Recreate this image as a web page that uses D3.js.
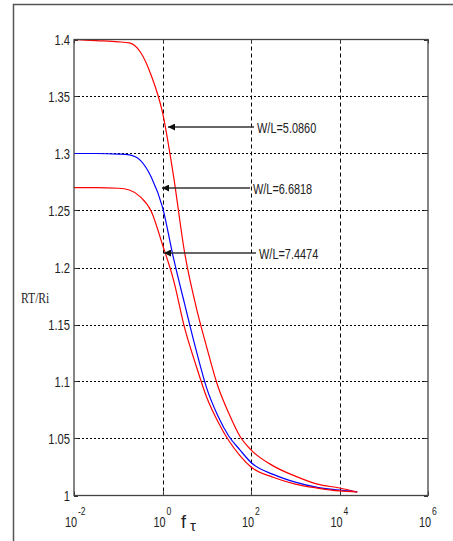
<!doctype html>
<html>
<head>
	<title> RT/Ri vs f tau </title>
	<script src="https://cdn.jsdelivr.net/npm/d3@7"></script>
</head>
<style>
	body { margin:0; background-color:white; }
	svg { display:block; }
	.tick-label { font-family:'Liberation Sans', Arial, sans-serif; font-size:14px; fill:#222; }
	.note { font-family:'Liberation Sans', Arial, sans-serif; font-size:14px; fill:#222; }
	.ylab { font-family:'Liberation Serif', 'Times New Roman', serif; font-size:14px; fill:#222; }
</style>
<body>
<script>

	// frequency grid, as log10(f)
	var logF = [-2, -1.5, -1, -0.75, -0.5, -0.25, 0, 0.25, 0.5, 0.75, 1, 1.25, 1.5, 1.75, 2, 2.5, 3, 3.5, 4, 4.4]

	var wl5 = [1.400, 1.399, 1.398, 1.397, 1.389, 1.368, 1.336, 1.280, 1.213, 1.167, 1.130, 1.096, 1.072, 1.052, 1.040, 1.026, 1.017, 1.010, 1.0066, 1.0031]
	var wl6 = [1.300, 1.300, 1.2995, 1.2988, 1.294, 1.279, 1.253, 1.208, 1.168, 1.129, 1.094, 1.070, 1.052, 1.040, 1.029, 1.0185, 1.0117, 1.0071, 1.0048, 1.0031]
	var wl7 = [1.270, 1.270, 1.2695, 1.268, 1.262, 1.249, 1.220, 1.189, 1.147, 1.115, 1.086, 1.065, 1.048, 1.035, 1.025, 1.016, 1.010, 1.0065, 1.0040, 1.0031]

	var series = [
		{name:"W/L=5.0860", values:wl5, color:"#ff0000"},
		{name:"W/L=6.6818", values:wl6, color:"#0000ff"},
		{name:"W/L=7.4474", values:wl7, color:"#ff0000"}
	]

	// arrow annotations: tip (f, value) and label start f
	var notes = [
		{t:"W/L=5.0860", f:1.33, v:1.3232, tf:137},
		{t:"W/L=6.6818", f:0.975, v:1.2697, tf:111},
		{t:"W/L=7.4474", f:1.08, v:1.2127, tf:152}
	]

	var xTicks = [-2, 0, 2, 4, 6]
	var yTicks = [1, 1.05, 1.1, 1.15, 1.2, 1.25, 1.3, 1.35, 1.4]

	var width = 453
	var height = 541
	var pLeft = 74, pRight = 428, pTop = 39.5, pBottom = 495.5

	var canvas = d3.select("body")
				.append("svg")
				.attr("width",width)
				.attr("height",height);

	var x = d3.scaleLog().domain([1e-2, 1e6]).range([pLeft, pRight])
	var y = d3.scaleLinear().domain([1, 1.4]).range([pBottom, pTop])

	// outer figure frame (left + top)
	canvas.append("path")
		.attr("d", "M13.5,541 L13.5,4.5 L453,4.5")
		.attr("fill","none")
		.attr("stroke","#555")
		.attr("stroke-width",1.5)

	// grid
	canvas.selectAll(".vgrid")
		.data(xTicks.slice(1, -1))
		.enter()
			.append("line")
			.attr("x1", function(d) { return Math.round(x(Math.pow(10,d)))+0.5; })
			.attr("x2", function(d) { return Math.round(x(Math.pow(10,d)))+0.5; })
			.attr("y1", pTop)
			.attr("y2", pBottom)
			.attr("stroke","#000")
			.attr("stroke-dasharray","4,3")
			.attr("class","vgrid");

	canvas.selectAll(".hgrid")
		.data(yTicks.slice(1, -1))
		.enter()
			.append("line")
			.attr("x1", pLeft)
			.attr("x2", pRight)
			.attr("y1", function(d) { return Math.round(y(d))+0.5; })
			.attr("y2", function(d) { return Math.round(y(d))+0.5; })
			.attr("stroke","#000")
			.attr("stroke-dasharray","2,2")
			.attr("class","hgrid");

	// tick marks (inside, both sides)
	canvas.selectAll(".ytick")
		.data(yTicks)
		.enter()
			.append("path")
			.attr("d", function(d) { var yy = Math.round(y(d))+0.5;
				return "M"+pLeft+","+yy+"h4M"+pRight+","+yy+"h-4"; })
			.attr("stroke","#333")
			.attr("class","ytick");

	canvas.selectAll(".xtick")
		.data(xTicks)
		.enter()
			.append("path")
			.attr("d", function(d) { var xx = Math.round(x(Math.pow(10,d)))+0.5;
				return "M"+xx+","+pBottom+"v-4M"+xx+","+pTop+"v4"; })
			.attr("stroke","#333")
			.attr("class","xtick");

	// curves
	var line = d3.line()
		.x(function(d) { return x(Math.pow(10, d[0])); })
		.y(function(d) { return y(d[1]); })
		.curve(d3.curveMonotoneX)

	canvas.selectAll(".curve")
		.data(series)
		.enter()
			.append("path")
			.attr("d", function(s) { return line(logF.map(function(f,i) { return [f, s.values[i]]; })); })
			.attr("fill","none")
			.attr("stroke", function(s) { return s.color; })
			.attr("stroke-width",1.2)
			.attr("class","curve");

	// axes box
	canvas.append("rect")
		.attr("x", pLeft).attr("y", pTop)
		.attr("width", pRight-pLeft).attr("height", pBottom-pTop)
		.attr("fill","none")
		.attr("stroke","#444")
		.attr("stroke-width",1.3)

	// y tick labels
	canvas.selectAll(".ylabel")
		.data(yTicks)
		.enter()
			.append("text")
			.attr("transform", function(d) { return "translate(70,"+(y(d)+5)+") scale(0.8,1)"; })
			.attr("text-anchor","end")
			.text(function(d) { return d3.format("")(+d.toFixed(2)); })
			.attr("class","tick-label");

	// x tick labels 10^n
	var xl = canvas.selectAll(".xlabel")
		.data(xTicks)
		.enter()
			.append("g")
			.attr("transform", function(d) { return "translate("+(x(Math.pow(10,d))-3)+",527) scale(0.78,1)"; })
			.attr("class","xlabel");
	xl.append("text")
		.attr("text-anchor","middle")
		.attr("class","tick-label")
		.text("10");
	xl.append("text")
		.attr("x", 9)
		.attr("y", -12)
		.attr("class","tick-label")
		.style("font-size","11px")
		.text(function(d) { return d; });

	// axis titles
	canvas.append("text")
		.attr("transform","translate(21,303) scale(0.83,1)")
		.attr("class","ylab")
		.text("RT/Ri");

	var ft = canvas.append("text")
		.attr("x", 181)
		.attr("y", 528)
		.style("font-family","'Liberation Sans', Arial, sans-serif")
		.style("fill","#222")
	ft.append("tspan").style("font-size","18px").text("f");
	ft.append("tspan").attr("dx",4).attr("dy",3).style("font-size","15px").text("τ");

	// arrow annotations
	var defs = canvas.append("defs")
	defs.append("marker")
		.attr("id","head")
		.attr("viewBox","0 0 10 10")
		.attr("refX",0).attr("refY",5)
		.attr("markerWidth",9).attr("markerHeight",7)
		.attr("markerUnits","userSpaceOnUse")
		.attr("orient","auto")
		.append("path")
			.attr("d","M0,5 L10,0 L10,10 Z")
			.attr("fill","#111");

	canvas.selectAll(".arrow")
		.data(notes)
		.enter()
			.append("line")
			.attr("x1", function(d) { return x(d.f); })
			.attr("y1", function(d) { return y(d.v); })
			.attr("x2", function(d) { return x(d.tf)-3; })
			.attr("y2", function(d) { return y(d.v); })
			.attr("stroke","#333")
			.attr("stroke-width",1.6)
			.attr("marker-start","url(#head)")
			.attr("class","arrow");

	canvas.selectAll(".note")
		.data(notes)
		.enter()
			.append("text")
			.attr("transform", function(d) { return "translate("+x(d.tf)+","+(y(d.v)+6)+") scale(0.78,1)"; })
			.text(function(d) { return d.t; })
			.attr("class","note");

</script>
</body>
</html>
